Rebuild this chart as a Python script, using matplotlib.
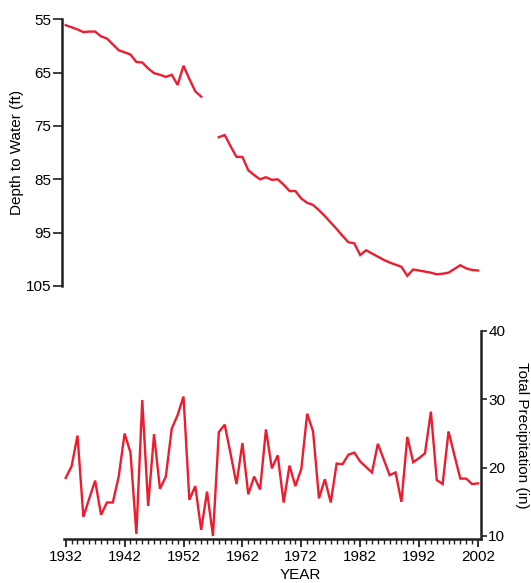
import numpy as np
import matplotlib
matplotlib.use("Agg")
import matplotlib.pyplot as plt
from matplotlib.ticker import MultipleLocator

plt.rcParams['font.family'] = ['Liberation Sans', 'DejaVu Sans']

# Depth to water (ft), annual; NaN where no record
depth_years = list(range(1932, 2003))
depth_ft = [56.1, 56.5, 56.9, 57.4, 57.3, 57.3, 58.2, 58.6, 59.7, 60.8,
            61.2, 61.6, 63.0, 63.1, 64.2, 65.1, 65.4, 65.8, 65.4, 67.3,
            63.7, 66.2, 68.5, 69.5, np.nan, np.nan, 77.1, 76.7, 78.8, 80.8,
            80.8, 83.3, 84.2, 85.0, 84.6, 85.1, 85.0, 86.0, 87.2, 87.2,
            88.6, 89.4, 89.8, 90.8, 91.9, 93.1, 94.3, 95.6, 96.8, 97.0,
            99.2, 98.3, 98.9, 99.5, 100.1, 100.6, 101.0, 101.4, 103.1, 101.9,
            102.1, 102.3, 102.5, 102.8, 102.7, 102.5, 101.8, 101.1, 101.7, 102.0,
            102.1]

# Total precipitation (in), annual
precip_years = list(range(1932, 2003))
precip_in = [18.5, 20.2, 24.7, 12.8, 15.5, 18.1, 13.1, 14.9, 14.9, 18.7,
             25.0, 22.2, 10.3, 29.9, 14.4, 24.9, 16.9, 18.7, 25.7, 27.7,
             30.4, 15.3, 17.3, 10.9, 16.5, 10.0, 25.2, 26.3, 22.0, 17.6,
             23.6, 16.1, 18.7, 16.8, 25.6, 19.9, 21.8, 14.9, 20.3, 17.3,
             19.8, 27.9, 25.3, 15.5, 18.3, 14.9, 20.6, 20.5, 21.9, 22.2,
             20.9, 20.1, 19.3, 23.5, 21.2, 18.9, 19.3, 15.0, 24.5, 20.8,
             21.4, 22.1, 28.2, 18.2, 17.6, 25.3, 21.8, 18.4, 18.4, 17.6,
             17.7]

red = '#ED1C2E'
ink = '#231F20'
W, H = 531, 583
fs = 11

fig = plt.figure(figsize=(W / 100, H / 100), dpi=100)

x0, x1 = 61.7, 480.7
xlim = (1931.32, 2002.46)

# top panel: depth to water
ax1 = fig.add_axes([x0 / W, 1 - 286 / H, (x1 - x0) / W, (286 - 19.3) / H])
ax1.plot(depth_years, depth_ft, color=red, lw=1.7, solid_joinstyle='miter')
ax1.set_xlim(*xlim)
ax1.set_ylim(105, 55)
ax1.set_yticks([55, 65, 75, 85, 95, 105])
for s in ['top', 'right', 'bottom']:
    ax1.spines[s].set_visible(False)
ax1.spines['left'].set_linewidth(1.8)
ax1.spines['left'].set_color(ink)
ax1.set_xticks([])
ax1.tick_params(axis='y', direction='out', length=6.5, width=1.2, color=ink,
                labelsize=fs, pad=1)
ax1.set_ylabel('Depth to Water (ft)', fontsize=fs, labelpad=1)
ax1.patch.set_alpha(0)

# bottom panel: precipitation
ax2 = fig.add_axes([x0 / W, 1 - 539 / H, (x1 - x0) / W, (539 - 331) / H])
ax2.plot(precip_years, precip_in, color=red, lw=1.7, solid_joinstyle='miter')
ax2.set_xlim(*xlim)
ax2.set_ylim(9.56, 40)
for s in ['top', 'left']:
    ax2.spines[s].set_visible(False)
for s in ['bottom', 'right']:
    ax2.spines[s].set_linewidth(1.8)
    ax2.spines[s].set_color(ink)
ax2.spines['bottom'].set_bounds(1931.7, xlim[1])
ax2.yaxis.tick_right()
ax2.yaxis.set_label_position('right')
ax2.set_yticks([10, 20, 30, 40])
ax2.set_xticks(range(1932, 2003, 10))
ax2.xaxis.set_minor_locator(MultipleLocator(1))
ax2.tick_params(axis='x', which='major', direction='out', length=6, width=1.3,
                color=ink, labelsize=fs, pad=2)
ax2.tick_params(axis='x', which='minor', direction='out', length=3.5, width=1.0,
                color=ink)
ax2.tick_params(axis='y', direction='out', length=4.5, width=1.2, color=ink,
                labelsize=fs, pad=1)
ax2.set_ylabel('Total Precipitation (in)', fontsize=fs, rotation=270,
               labelpad=17)
ax2.patch.set_alpha(0)

fig.text(300 / W, 1 - 575 / H, 'YEAR', ha='center', va='center', fontsize=fs)

fig.savefig('out.png', dpi=100)
